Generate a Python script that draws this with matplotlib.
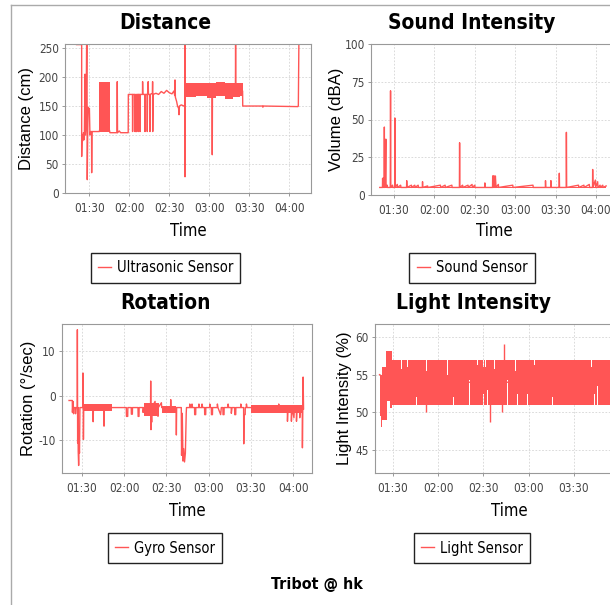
import matplotlib.pyplot as plt
from matplotlib.lines import Line2D
from matplotlib.ticker import FuncFormatter
from matplotlib import font_manager

plt.rcParams['axes.unicode_minus'] = False

# time axis in minutes after midnight (90 = 01:30)
dist_trace = [
    (80.5, 256), (84.3, 256), (84.3, 63), (84.6, 100), (85.1, 90), (85.6, 104), (86.3, 92),
    (86.8, 205), (87.1, 100), (87.6, 118), (88.0, 256), (88.3, 256), (88.5, 23), (88.8, 100),
    (89.2, 148), (89.7, 140), (90.1, 146), (90.5, 100), (91.0, 106), (91.7, 106), (91.8, 35),
    (92.0, 106), (97.5, 106), (101.5, 150), (105.5, 104), (110.8, 104), (111.0, 192), (111.2, 104),
    (112.5, 107), (113.5, 104), (119.2, 104), (119.3, 170), (122.4, 170), (122.5, 106), (122.7, 170),
    (124.2, 170), (124.3, 106), (124.5, 170), (125.0, 106), (125.3, 170), (125.5, 106), (125.8, 170),
    (126.7, 170), (126.8, 106), (127.0, 170), (128.0, 170), (128.1, 106), (128.3, 170), (129.9, 170),
    (130.0, 192), (130.2, 170), (131.7, 170), (131.8, 106), (132.0, 170), (133.4, 170), (133.5, 106),
    (133.7, 170), (134.2, 192), (134.4, 170), (135.4, 170), (135.5, 106), (135.7, 170), (137.4, 172),
    (137.5, 192), (137.6, 106), (137.9, 170), (140, 172), (142, 170), (144, 175), (146, 172),
    (148, 177), (150, 173), (152, 171), (153.5, 176), (154.1, 168), (154.3, 195), (154.6, 165),
    (155.5, 158), (156.2, 150), (157.0, 146), (157.3, 135), (157.6, 150), (159.0, 152), (161.0, 150),
    (161.6, 150), (161.7, 256), (161.8, 28), (162.0, 176), (182.1, 176), (182.25, 66), (182.4, 176),
    (199.6, 176), (199.75, 256), (199.9, 176), (205.0, 176), (205.1, 150), (220.0, 150), (220.2, 148),
    (220.5, 150), (246.5, 149), (246.8, 150), (247.2, 256),
]
dist_bands = [
    [(97.5, 106, 192), (105.5, 106, 192)],
    [(162, 165, 189), (170, 167, 190), (178, 163, 189), (185, 167, 191), (192, 162, 189),
     (198, 165, 190), (203, 167, 189), (205, 167, 189)],
]

sound_trace = [
    (79.5, 5), (81.5, 5), (81.6, 11), (82.0, 5), (82.3, 11.5), (82.7, 5), (82.9, 45), (83.1, 5),
    (83.6, 11), (84.0, 37), (84.2, 5), (85.0, 6.5), (85.2, 5), (87.3, 5), (87.5, 69), (87.7, 5),
    (89.0, 6.5), (89.2, 5), (90.6, 5), (90.75, 51), (90.9, 5), (92.5, 7), (92.7, 5), (95.0, 6.5),
    (95.2, 5), (99.4, 5), (99.5, 9.5), (99.7, 5), (103.0, 6.5), (103.2, 5), (105.5, 6.5), (105.7, 5),
    (108.0, 6.5), (108.2, 5), (111.1, 5), (111.25, 8.8), (111.4, 5), (115.0, 6), (115.2, 5),
    (124.5, 6.5), (124.7, 5), (128.0, 6.5), (128.2, 5), (133.0, 6.5), (133.2, 5), (138.6, 5),
    (138.75, 34.6), (138.9, 5), (141.0, 6.5), (141.2, 5), (145.0, 6.5), (145.2, 5), (148.0, 7),
    (148.2, 5), (150.0, 6.5), (150.2, 5), (157.4, 5), (157.5, 8), (157.7, 5),
    (163.2, 5), (163.3, 12.6), (163.5, 5), (163.8, 12.6), (164.2, 5), (164.5, 12.6), (165.0, 5),
    (165.3, 12.6), (165.8, 5), (167.5, 7), (167.7, 5), (178.2, 6.5), (178.4, 5), (193.2, 6.5),
    (193.4, 5), (202.4, 5), (202.5, 9.5), (202.7, 5), (206.4, 5), (206.5, 9.5), (206.7, 5),
    (212.6, 5), (212.75, 14.4), (212.9, 5), (217.9, 5), (218, 41.5), (218.2, 5), (227.0, 6.5),
    (227.2, 5), (231.0, 6.5), (231.2, 5), (235.0, 7), (235.2, 5), (237.4, 5), (237.5, 16.9),
    (237.7, 5), (239.5, 9.9), (239.7, 5), (241.2, 8.8), (241.4, 5), (243.0, 6.5), (243.2, 5),
    (245.0, 6.5), (245.2, 5), (247.5, 6),
]
sound_bands = [
    [(79.5, 4.6, 5.6), (247.5, 4.6, 5.6)],
]

rot_trace = [
    (81.0, -1.1), (83.3, -1.1), (83.4, -3.8), (83.8, -1.3), (84.2, -4.1), (84.5, -2.7), (85.5, -2.7),
    (85.6, -4.1), (85.9, -2.7), (86.8, -2.7), (86.9, 14.9), (87.1, -10.7), (87.3, -2.7), (87.5, -12.6),
    (87.8, -15.8), (88.1, -11.5), (88.4, -13.0), (88.7, -2.7), (90.8, -2.7), (91.0, 5.1), (91.2, -9.9),
    (91.4, -2.7), (98.0, -2.7), (98.1, -5.9), (98.3, -2.7), (105.7, -2.7), (105.8, -6.9), (106.0, -2.7),
    (121.6, -2.7), (121.7, -4.7), (122.6, -4.7), (122.7, -2.7), (125.1, -2.7), (125.2, -4.2),
    (125.9, -4.2), (126.0, -2.7), (129.9, -2.7), (130.0, -4.7), (130.6, -4.7), (130.7, -2.7),
    (133.4, -2.7), (133.5, -3.8), (134.0, -2.7), (138.8, -2.7), (138.9, 3.3), (139.1, -7.7),
    (139.3, -2.7), (139.6, -6.0), (139.8, -2.7), (142.0, -1.3), (142.2, -2.7), (144.1, -4.7),
    (144.3, -2.7), (146.5, -1.6), (146.7, -2.7), (153.0, -2.7), (153.1, -0.9), (153.3, -2.7),
    (157.0, -2.7), (157.1, -8.9), (157.3, -2.7), (160.6, -2.7), (160.8, -13.5), (161.3, -4.0),
    (161.8, -14.8), (162.3, -12.0), (162.9, -15.0), (163.5, -13.0), (164.1, -4.0), (164.3, -2.7),
    (166.5, -2.7), (166.6, -1.9), (167.0, -2.7), (168.1, -2.7), (168.2, -1.9), (168.6, -2.7),
    (170.0, -2.7), (170.1, -4.3), (170.8, -4.3), (170.9, -2.7), (173.0, -2.7), (173.1, -1.9),
    (173.5, -2.7), (175.2, -2.7), (175.3, -1.9), (175.8, -2.7), (177.1, -2.7), (177.2, -4.3),
    (177.9, -4.3), (178.0, -2.7), (180.7, -2.7), (180.8, -1.9), (181.2, -2.7), (181.9, -2.7),
    (182.0, -4.3), (182.7, -4.3), (182.8, -2.7), (186.1, -2.7), (186.2, -1.9), (186.6, -2.7),
    (188.5, -4.3), (189.0, -2.7), (190.1, -2.7), (190.2, -4.3), (190.9, -4.3), (191.0, -2.7),
    (193.7, -2.7), (193.8, -1.9), (194.2, -2.7), (196.0, -2.7), (196.1, -4.0), (196.6, -2.7),
    (198.4, -2.7), (198.5, -4.3), (199.2, -4.3), (199.3, -2.7), (202.7, -2.7), (202.8, -1.9),
    (203.2, -2.7), (204.8, -2.7), (204.9, -10.9), (205.1, -4.3), (205.9, -4.3), (206.0, -2.7),
    (206.7, -2.7), (206.8, -1.9), (207.2, -2.7), (229.6, -2.7), (229.7, -1.9), (229.9, -2.7),
    (235.8, -2.7), (235.9, -5.8), (236.3, -2.7), (238.6, -2.7), (238.7, -5.8), (239.1, -2.7),
    (240.5, -5.0), (240.8, -2.7), (242.2, -2.7), (242.3, -5.8), (242.7, -2.7), (244.5, -2.7),
    (244.6, -5.0), (245.0, -2.7), (246.4, -2.7), (246.5, -11.8), (246.8, -3.0), (247.0, 4.2),
    (247.3, -3.0),
]
rot_bands = [
    [(91.5, -3.5, -2.0), (111.3, -3.5, -2.0)],
    [(134.5, -4.5, -1.6), (145.0, -4.5, -1.6)],
    [(147.0, -4.0, -2.3), (156.5, -4.0, -2.3)],
    [(210.3, -3.9, -2.2), (247.0, -3.9, -2.2)],
]

light_trace = [(81.1, 55), (89.6, 54), (258.0, 54)]
light_spikes = [(111.8, 50.0), (154.0, 48.8), (162.2, 50.0), (163.3, 59.1)]
light_bands = [[
    (81.1, 49.5, 55.0), (82.0, 48.1, 55.0), (82.7, 49.0, 56.0), (85.1, 49.0, 58.1), (86.0, 51.5, 58.1),
    (88.2, 50.6, 58.1), (89.6, 51.0, 57.0),
    (95.6, 51.0, 55.8), (96.1, 51.0, 57.0), (99.6, 51.0, 56.0), (100.1, 51.0, 57.0),
    (105.6, 52.0, 57.0), (106.1, 51.0, 57.0), (111.8, 51.0, 55.5), (112.3, 51.0, 57.0),
    (122.2, 51.0, 56.0), (122.7, 51.0, 57.0), (126.0, 51.0, 55.0), (126.5, 51.0, 57.0),
    (130.0, 52.0, 57.0), (130.5, 51.0, 57.0), (140.7, 54.3, 57.0), (141.2, 51.0, 57.0),
    (145.6, 51.0, 56.3), (146.1, 51.0, 57.0), (150.0, 52.5, 56.0), (150.5, 51.0, 57.0),
    (151.1, 51.0, 56.0), (151.6, 51.0, 57.0), (152.2, 53.0, 57.0), (152.7, 51.0, 57.0),
    (157.1, 51.0, 55.8), (157.6, 51.0, 57.0), (165.6, 54.3, 57.0), (166.1, 51.0, 57.0),
    (171.1, 51.0, 55.5), (171.6, 51.0, 57.0), (172.2, 52.5, 57.0), (172.7, 51.0, 57.0),
    (178.9, 52.5, 57.0), (179.4, 51.0, 57.0), (183.3, 51.0, 56.3), (183.8, 51.0, 57.0),
    (187.8, 52.0, 56.0), (188.3, 51.0, 57.0), (195.6, 52.0, 57.0), (196.1, 51.0, 57.0),
    (201.1, 51.0, 56.3), (201.6, 51.0, 57.0), (221.5, 51.0, 56.0), (222.0, 51.0, 57.0),
    (223.3, 52.5, 57.0), (223.8, 51.0, 57.0), (225.1, 53.5, 57.0), (225.6, 51.0, 57.0),
    (240.0, 51.0, 56.0), (240.5, 51.0, 57.0), (258.0, 51.0, 57.0),
]]

time_ticks = [90, 120, 150, 180, 210, 240]

RED = '#ff5555'
W, H = 610, 605

# narrow look of the original: condensed DejaVu if the system has it, else Liberation Sans
_has_cond = any(f.name == 'DejaVu Sans' and f.stretch == 'condensed'
                for f in font_manager.fontManager.ttflist)
NARROW = dict(family='DejaVu Sans', stretch='condensed') if _has_cond else dict(family='Liberation Sans')
REGULAR = dict(family='Liberation Sans')


def rect(l, t, r, b):
    return [l / W, 1 - b / H, (r - l) / W, (b - t) / H]


def hhmm(m, _):
    m = int(round(m))
    return f"{m // 60:02d}:{m % 60:02d}"


fig = plt.figure(figsize=(6.1, 6.05), dpi=100)

# panel border of the original frame
fig.add_artist(Line2D([11 / W, 11 / W], [0, 1 - 5 / H], color='#aaaaaa', lw=1))
fig.add_artist(Line2D([11 / W, 1], [1 - 5 / H, 1 - 5 / H], color='#aaaaaa', lw=1))

panels = [
    # box (l, t, r, b), title, title center, ylabel, ylabel x, xlim, ylim, yticks, trace, bands, legend
    ((65, 44, 311, 193), "Distance", (165, 23), "Distance (cm)", 27, (71.8, 256.3), (0, 257),
     [0, 50, 100, 150, 200, 250], dist_trace, dist_bands, "Ultrasonic Sensor", (165.5, 268), 231),
    ((371, 44, 618, 195), "Sound Intensity", (472, 23), "Volume (dBA)", 337, (73, 256.3), (0, 100),
     [0, 25, 50, 75, 100], sound_trace, sound_bands, "Sound Sensor", (472, 268), 231),
    ((62, 324, 312, 473), "Rotation", (165, 303), "Rotation (°/sec)", 29, (76, 253.3), (-17.5, 16.2),
     [-10, 0, 10], rot_trace, rot_bands, "Gyro Sensor", (165, 548), 511),
    ((375, 324, 643, 473), "Light Intensity", (473, 303), "Light Intensity (%)", 345, (78.1, 255.7),
     (42.0, 61.7), [45, 50, 55, 60], light_trace, light_bands, "Light Sensor", (472, 548), 511),
]

for box, title, tpos, ylab, ylab_x, xlim, ylim, yticks, trace, bands, leg, legpos, time_y in panels:
    l, t, r, b = box
    ax = fig.add_axes(rect(l, t, r, b))
    tt, vv = zip(*trace)
    ax.plot(tt, vv, color=RED, lw=1.0, label=leg)
    for band in bands:
        bt, blo, bhi = zip(*band)
        ax.fill_between(bt, blo, bhi, step='post', color=RED, lw=0)
    if title == "Light Intensity":
        st, sv = zip(*light_spikes)
        ax.vlines(st, 54, sv, color=RED, lw=1.0)
        # the 04:00 label lies past the right edge of the picture
        ax.set_xticks(time_ticks)
        ax.set_xticklabels([hhmm(m, None) for m in time_ticks[:-1]] + [""])
    else:
        ax.set_xticks(time_ticks)
        ax.xaxis.set_major_formatter(FuncFormatter(hhmm))

    ax.set_xlim(*xlim)
    ax.set_ylim(*ylim)
    ax.set_yticks(yticks)
    ax.grid(True, color='#d4d4d4', lw=0.6, ls=(0, (2, 2)))
    ax.set_axisbelow(True)
    for s in ax.spines.values():
        s.set_color('#999999')
        s.set_linewidth(0.8)
    ax.tick_params(length=2.5, width=0.7, color='#999999', labelcolor='#444444', labelsize=8.5)
    ax.tick_params(axis='x', pad=4)
    ax.tick_params(axis='y', pad=2)
    for lab in ax.get_xticklabels() + ax.get_yticklabels():
        lab.set(**NARROW)

    ax.set_xlabel("Time", fontsize=12, **NARROW)
    ax.xaxis.label.set_va('center')
    ax.xaxis.set_label_coords(0.5, (b - time_y) / (b - t))
    ax.set_ylabel(ylab, fontsize=12, **REGULAR)
    ax.yaxis.label.set_va('center')
    ax.yaxis.set_label_coords((ylab_x - l) / (r - l), 0.5)

    fig.text(tpos[0] / W, 1 - tpos[1] / H, title, ha='center', va='center',
             fontsize=15, fontweight='bold', **NARROW)

    lg = ax.legend(loc='center', bbox_to_anchor=(legpos[0] / W, 1 - legpos[1] / H),
                   bbox_transform=fig.transFigure, fancybox=False, edgecolor='#222222',
                   framealpha=1, handlelength=0.9, handletextpad=0.4, borderpad=0.5,
                   prop=dict(size=10.5, **NARROW))
    lg.get_frame().set_linewidth(1.0)

fig.text(317 / W, 1 - 585 / H, "Tribot @ hk", ha='center', va='center',
         fontsize=11.5, fontweight='bold', **NARROW)

fig.savefig('out.png', dpi=100)
